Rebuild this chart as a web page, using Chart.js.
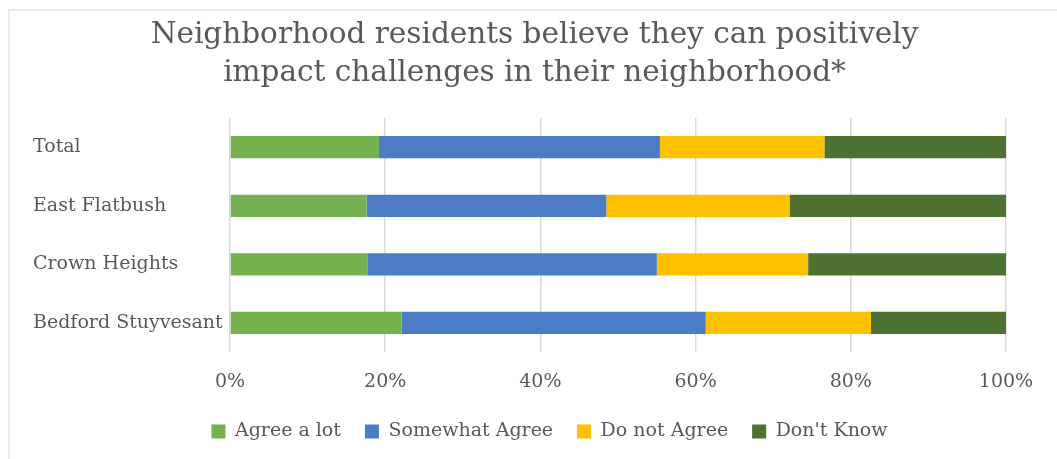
<!DOCTYPE html>
<html>
<head>
<meta charset="utf-8">
<script src="https://cdn.jsdelivr.net/npm/chart.js@4"></script>
<style>
  html, body { margin: 0; padding: 0; background: #fff; }
  #wrap { width: 1057px; height: 459px; position: relative; }
</style>
</head>
<body>
<div id="wrap"><canvas id="chart"></canvas></div>
<script>
// data (percent of respondents)
const categories = ["Total", "East Flatbush", "Crown Heights", "Bedford Stuyvesant"];
const seriesNames = ["Agree a lot", "Somewhat Agree", "Do not Agree", "Don't Know"];
const agreeALot = [19.2, 17.6, 17.7, 22.1];
const somewhatAgree = [36.2, 30.9, 37.3, 39.2];
const doNotAgree = [21.2, 23.6, 19.5, 21.3];
const dontKnow = [23.4, 27.9, 25.5, 17.4];
const xTicks = [0, 20, 40, 60, 80, 100];

const colors = ["#76b14f", "#4d7cc7", "#ffc000", "#4e7232"];
const textColor = "#595959";
const serif = "'DejaVu Serif', serif";

/* faint frame on the top and left edge */
const framePlugin = {
  id: "frame",
  beforeDraw(chart) {
    const c = chart.ctx;
    c.save();
    c.strokeStyle = "#ececec";
    c.lineWidth = 2;
    c.beginPath();
    c.moveTo(9, chart.height);
    c.lineTo(9, 10);
    c.lineTo(chart.width, 10);
    c.stroke();
    c.restore();
  }
};

/* nudge title and legend to where the original has them */
const boxShift = {
  id: "boxShift",
  afterLayout(chart) {
    const t = chart.titleBlock, l = chart.legend;
    t.left += 15; t.right += 15;
    l.left += 30; l.right += 30;
    l.top -= 13; l.bottom -= 13;
  }
};

new Chart(document.getElementById("chart"), {
  type: "bar",
  data: {
    labels: categories,
    datasets: [agreeALot, somewhatAgree, doNotAgree, dontKnow].map((d, i) => ({
      label: seriesNames[i],
      data: d,
      backgroundColor: colors[i],
      barPercentage: 0.76,
      categoryPercentage: 0.5
    }))
  },
  options: {
    indexAxis: "y",
    responsive: true,
    maintainAspectRatio: false,
    animation: false,
    layout: { padding: { left: 33, right: 51, top: 0, bottom: -5 } },
    scales: {
      x: {
        stacked: true,
        min: 0,
        max: 100,
        afterBuildTicks(axis) {
          axis.ticks = xTicks.map(v => ({ value: v }));
        },
        ticks: {
          callback: v => v + "%",
          color: textColor,
          font: { family: serif, size: 19 },
          padding: 18,
          maxRotation: 0
        },
        grid: { color: "#d9d9d9", lineWidth: 1.5, drawTicks: false },
        border: { display: false }
      },
      y: {
        stacked: true,
        afterFit(axis) { axis.width = 197; },
        ticks: {
          color: textColor,
          crossAlign: "far",
          font: { family: serif, size: 19 }
        },
        grid: { display: false },
        border: { display: false }
      }
    },
    plugins: {
      title: {
        display: true,
        text: ["Neighborhood residents believe they can positively", "impact challenges in their neighborhood*"],
        color: textColor,
        font: { family: serif, size: 29.5, weight: "normal", lineHeight: 1.27 },
        padding: { top: 17, bottom: 26 }
      },
      legend: {
        position: "bottom",
        labels: {
          boxWidth: 14,
          boxHeight: 14,
          padding: 24,
          color: textColor,
          font: { family: serif, size: 19 }
        }
      },
      tooltip: { enabled: false }
    }
  },
  plugins: [framePlugin, boxShift]
});
</script>
</body>
</html>
